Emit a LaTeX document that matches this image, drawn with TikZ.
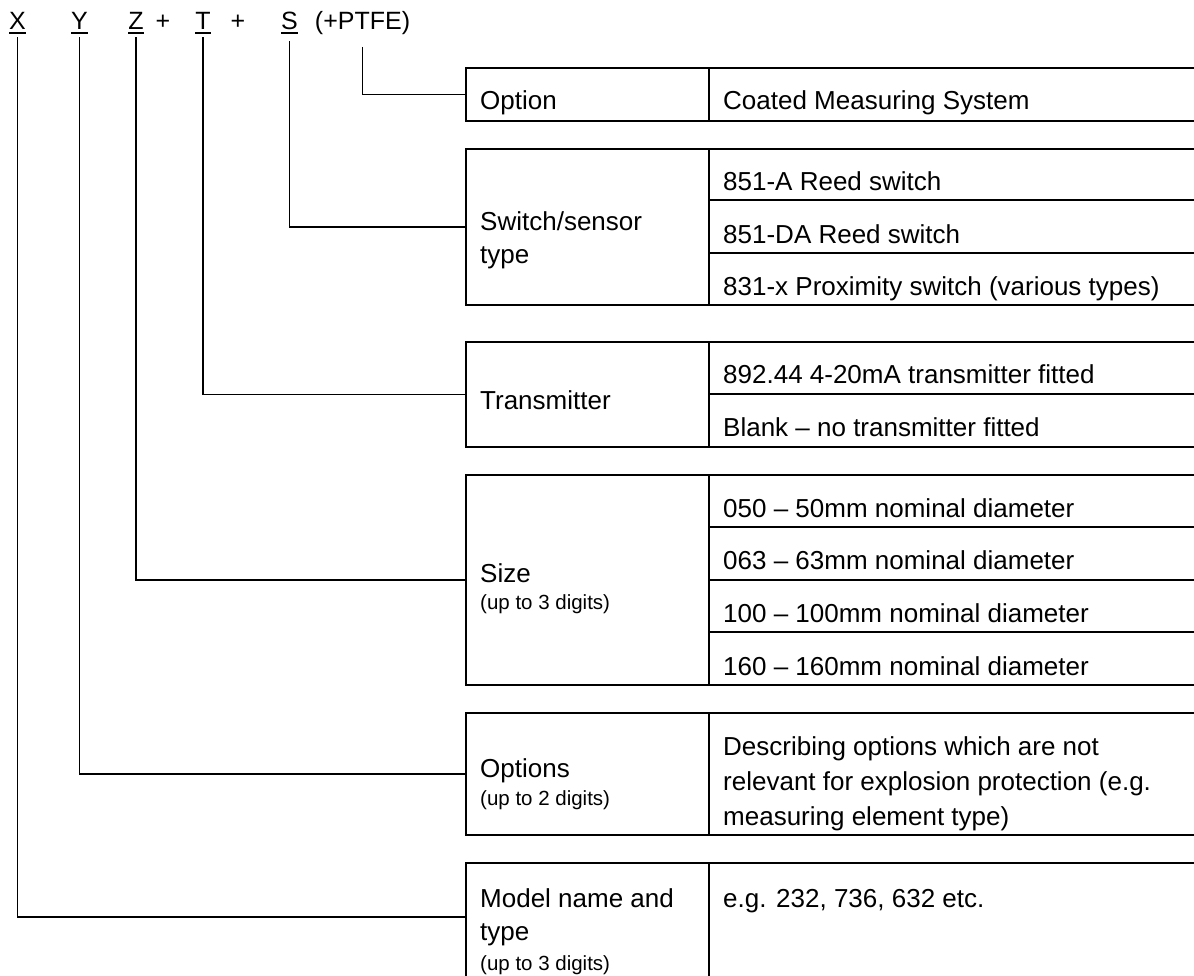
\documentclass[tikz,border=0pt]{standalone}
\usepackage{fontspec}
\setmainfont{Liberation Sans}
\newcommand\uline[1]{\setbox0\hbox{#1}\rlap{\rule[-4.6pt]{\wd0}{1.8pt}}\box0}
\newcommand\ml[1]{\parbox[t]{600pt}{\raggedright #1}}
\newcommand\smalltxt{\fontsize{20.5}{22}\selectfont}
\begin{document}
\begin{tikzpicture}[x=1pt,y=-1pt,
  tbl/.style={line width=2.2pt},
  conn/.style={line width=1.9pt},
  cell/.style={draw, line width=2.2pt, inner sep=0, outer sep=0, minimum width=243pt},
  txt/.style={anchor=base west, inner sep=0, font=\fontsize{26}{33}\selectfont},
  hdr/.style={anchor=base, inner xsep=0, inner ysep=3pt, font=\fontsize{25}{28}\selectfont}]
\useasboundingbox (0,0) rectangle (1194,975);

% header
\node[hdr] (X) at (17.5,29.5) {\uline{X}};
\node[hdr] (Y) at (79.5,29.5) {\uline{Y}};
\node[hdr] (Z) at (136,29.5) {\uline{Z}};
\node[hdr] (p1) at (163,29.5) {+};
\node[hdr] (T) at (203,29.5) {\uline{T}};
\node[hdr] (p2) at (238,29.5) {+};
\node[hdr, inner ysep=7pt] (S) at (289.5,29.5) {\uline{S}};
\node[hdr, inner ysep=12pt] (P) at (362.5,29.5) {(+PTFE)};

% left cells
\node[cell, minimum height=53pt] (optL) at (587.5,94.5) {};
\node[cell, minimum height=156pt] (swL) at (587.5,227) {};
\node[cell, minimum height=105pt] (trL) at (587.5,394.5) {};
\node[cell, minimum height=210pt] (szL) at (587.5,580) {};
\node[cell, minimum height=122pt] (opsL) at (587.5,774) {};
\node[cell, draw=none, minimum height=117pt] (modL) at (587.5,921.5) {};
\draw[tbl] (modL.south west) -- (modL.north west) -- (1200,863);
\draw[tbl] (modL.north east) -- (modL.south east);

% right rows
\draw[tbl] (709,68) rectangle (1200,121);
\draw[tbl] (709,149) rectangle (1200,200);
\draw[tbl] (709,200) rectangle (1200,253);
\draw[tbl] (709,253) rectangle (1200,305);
\draw[tbl] (709,342) rectangle (1200,394);
\draw[tbl] (709,394) rectangle (1200,447);
\draw[tbl] (709,475) rectangle (1200,527);
\draw[tbl] (709,527) rectangle (1200,580);
\draw[tbl] (709,580) rectangle (1200,632);
\draw[tbl] (709,632) rectangle (1200,685);
\draw[tbl] (709,713) rectangle (1200,835);

% texts
\node[txt] (t1) at (480,109) {Option};
\node[txt] (t1r) at (723,109) {Coated Measuring System};
\node[txt] (t2) at (480,230) {\ml{Switch/sensor\\type}};
\node[txt] (t2a) at (723,190) {851-A Reed switch};
\node[txt] (t2b) at (723,243) {851-DA Reed switch};
\node[txt] (t2c) at (723,295) {831-x Proximity switch (various types)};
\node[txt] (t3) at (480,409) {Transmitter};
\node[txt] (t3a) at (723,383) {892.44 4-20mA transmitter fitted};
\node[txt] (t3b) at (723,436) {Blank – no transmitter fitted};
\node[txt] (t4) at (480,582) {\ml{Size\\[-6pt]{\smalltxt (up to 3 digits)}}};
\node[txt] (t4a) at (723,517) {050 – 50mm nominal diameter};
\node[txt] (t4b) at (723,569) {063 – 63mm nominal diameter};
\node[txt] (t4c) at (723,622) {100 – 100mm nominal diameter};
\node[txt] (t4d) at (723,675) {160 – 160mm nominal diameter};
\node[txt] (t5) at (480,777) {\ml{Options\\[-5pt]{\smalltxt (up to 2 digits)}}};
\node[txt, font=\fontsize{26}{35}\selectfont] (t5r) at (723,755) {\ml{Describing options which are not\\relevant for explosion protection (e.g.\\measuring element type)}};
\node[txt] (t6) at (480,907) {\ml{Model name and\\type\\[-3pt]{\smalltxt (up to 3 digits)}}};
\node[txt] (t6r) at (723,907) {e.g. 232, 736, 632 etc.};

% connectors
\draw[conn] (P.south) |- (optL.west);
\draw[conn] (S.south) |- (swL.west);
\draw[conn] (T.south) |- (trL.west);
\draw[conn] (Z.south) |- (szL.west);
\draw[conn] (Y.south) |- (opsL.west);
\draw[conn] (X.south) |- ([yshift=4.5pt]modL.west);
\end{tikzpicture}
\end{document}
